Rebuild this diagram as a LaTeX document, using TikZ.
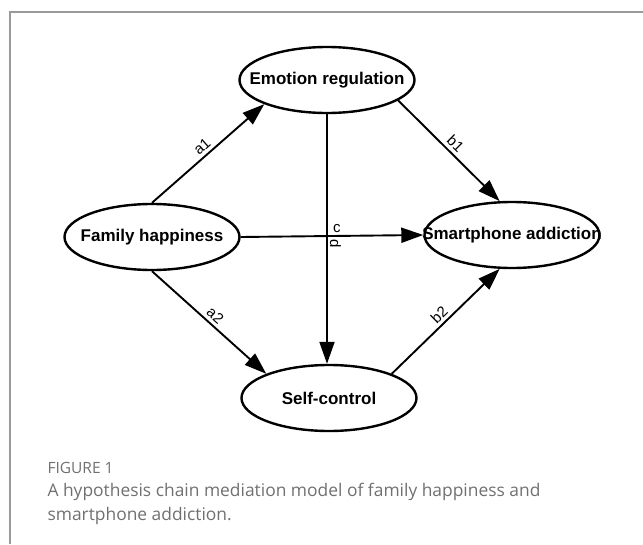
\documentclass[tikz,border=0pt]{standalone}
\usepackage{fontspec}
\setmainfont{Liberation Sans}
\newfontfamily\capfont{Open Sans}
\usetikzlibrary{shapes.geometric,arrows.meta}
\definecolor{framegray}{HTML}{9A9A9A}
\definecolor{capgray}{HTML}{707070}
% text may run over the ellipse border, as in the original
\newcommand{\vtext}[1]{\makebox[0pt]{#1}}

\begin{document}
\begin{tikzpicture}[x=1pt, y=-1pt,
  var/.style={ellipse, draw, line width=2.4pt, minimum width=175pt, minimum height=66pt, inner sep=0pt, font=\fontsize{17}{19}\selectfont\bfseries},
  path/.style={line width=1.9pt, -{Triangle[length=22pt,width=15pt]}},
  lbl/.style={font=\fontsize{15}{17}\selectfont, inner sep=3pt}]
\useasboundingbox (0,0) rectangle (643,544);
\draw[framegray, line width=1.4pt] (10,544) -- (10,12) -- (643,12);

\node[var] (er) at (327,80) {\vtext{Emotion regulation}};
\node[var] (fh) at (152,237) {\vtext{Family happiness}};
\node[var] (sa) at (512,235) {\vtext{Smartphone addiction}};
\node[var] (sc) at (329,398) {\vtext{Self-control}};

\draw[path] (fh.north) -- node[lbl, sloped, above] {a1} (er.south west);
\draw[path] (er.-16) -- node[lbl, sloped, above] {b1} (sa.110);
\draw[path] (fh.south) -- node[lbl, sloped, above] {a2} (sc.north west);
\draw[path] (sc.north east) -- node[lbl, sloped, above] {b2} (sa.250);
\draw[path] (fh.east) -- node[lbl, pos=0.49, above right, inner sep=2pt] {c} (sa.west);
\draw[path] (er.south) -- node[lbl, pos=0.52, sloped, above, inner sep=2pt] {d} (er.south |- sc.north);

\node[anchor=base west, font=\capfont\fontsize{15.5}{17}\selectfont, text=capgray] (fig) at (44,473) {FIGURE 1};
\node[anchor=base west, font=\capfont\fontsize{17.4}{20}\selectfont, text=capgray] (cap1) at (44,496) {A hypothesis chain mediation model of family happiness and};
\node[anchor=base west, font=\capfont\fontsize{17.4}{20}\selectfont, text=capgray] (cap2) at (44,520) {smartphone addiction.};
\end{tikzpicture}
\end{document}
